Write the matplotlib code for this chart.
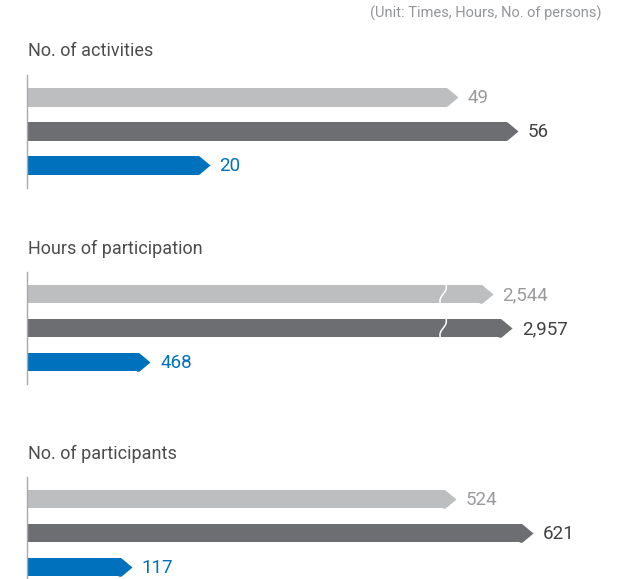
import numpy as np
import matplotlib
matplotlib.use("Agg")
from matplotlib import pyplot as plt
from matplotlib.path import Path

# data
titles = ["No. of activities", "Hours of participation", "No. of participants"]
activities = [49, 56, 20]
hours = [2544, 2957, 468]
participants = [524, 621, 117]
labels_activities = ["49", "56", "20"]
labels_hours = ["2,544", "2,957", "468"]
labels_participants = ["524", "621", "117"]
unit_note = "(Unit: Times, Hours, No. of persons)"

# style
bar_colors = ["#BCBEC0", "#6D6E71", "#0071BC"]
label_colors = ["#999A9D", "#414042", "#0071BC"]
title_color = "#4D4D4F"
axis_color = "#A7A9AC"

plt.rcParams["font.family"] = ["Roboto", "DejaVu Sans"]

W, H = 640, 579
fig = plt.figure(figsize=(W / 100, H / 100), dpi=100)

# arrow head marker (anchor at the bar end)
tip = Path([(-0.3, -1), (0, -1), (1.2, 0), (0, 1), (-0.3, 1), (-0.3, -1)],
           [Path.MOVETO, Path.LINETO, Path.LINETO, Path.LINETO, Path.LINETO, Path.CLOSEPOLY])

unit_px = 34.0        # distance between bar centres
bar_h_px = 18.4
left_px = 27.3
right_px = 620.0
ylim = (2.65, -0.66)
ax_h_px = (ylim[0] - ylim[1]) * unit_px

# hours axis has a break
cut = 1740.0
squeeze = 0.2


def fwd(v):
    v = np.asarray(v, dtype=float)
    return np.where(v <= cut, v, cut + (v - cut) * squeeze)


def inv(u):
    u = np.asarray(u, dtype=float)
    return np.where(u <= cut, u, cut + (u - cut) / squeeze)


groups = [
    (activities, labels_activities, 75.0, 51.5, 69.2, False),
    (hours, labels_hours, 271.7, 248.5, 5440.0, True),
    (participants, labels_participants, 476.7, 453.5, 743.7, False),
]

for gi, (vals, labs, top_px, title_y, xmax, broken) in enumerate(groups):
    ax = fig.add_axes([left_px / W, 1 - (top_px + ax_h_px) / H,
                       (right_px - left_px) / W, ax_h_px / H])
    if broken:
        ax.set_xscale("function", functions=(fwd, inv))
    ax.set_xlim(0, xmax)
    ax.set_ylim(*ylim)
    ypos = np.arange(len(vals))
    bh = bar_h_px / unit_px
    ax.barh(ypos, vals, height=bh, color=bar_colors, linewidth=0, zorder=2)
    for i, v in enumerate(vals):
        ax.plot([v], [ypos[i]], marker=tip, markersize=bar_h_px * 0.72 * 1.2,
                color=bar_colors[i], markeredgewidth=0, zorder=2, clip_on=False)
        ax.annotate(labs[i], (v, ypos[i]), xytext=(21, -1), textcoords="offset pixels",
                    ha="left", va="center", fontsize=13.5, color=label_colors[i])
    if broken:
        # wavy white break mark on the two long bars
        for i in range(2):
            if vals[i] <= cut:
                continue
            x0, yc = ax.transData.transform((cut, ypos[i]))
            t = np.linspace(0, 1, 30)
            xs = x0 + 3 - 6 * t + 1.3 * np.sin(2 * np.pi * t)
            ys = yc + bar_h_px / 2 - bar_h_px * t
            pts = ax.transData.inverted().transform(np.column_stack([xs, ys]))
            ax.plot(pts[:, 0], pts[:, 1], color="white", lw=1.1, zorder=3,
                    solid_capstyle="butt")
    for s in ["top", "right", "bottom"]:
        ax.spines[s].set_visible(False)
    ax.spines["left"].set_color(axis_color)
    ax.spines["left"].set_linewidth(1.0)
    ax.spines["left"].set_zorder(4)
    ax.set_xticks([])
    ax.set_yticks([])
    ax.patch.set_alpha(0)
    fig.text(28 / W, 1 - title_y / H, titles[gi], ha="left", va="center",
             fontsize=13, color=title_color)

fig.text(601 / W, 1 - 13 / H, unit_note, ha="right", va="center",
         fontsize=10.5, color="#939598")

fig.savefig("out.png", dpi=100)
